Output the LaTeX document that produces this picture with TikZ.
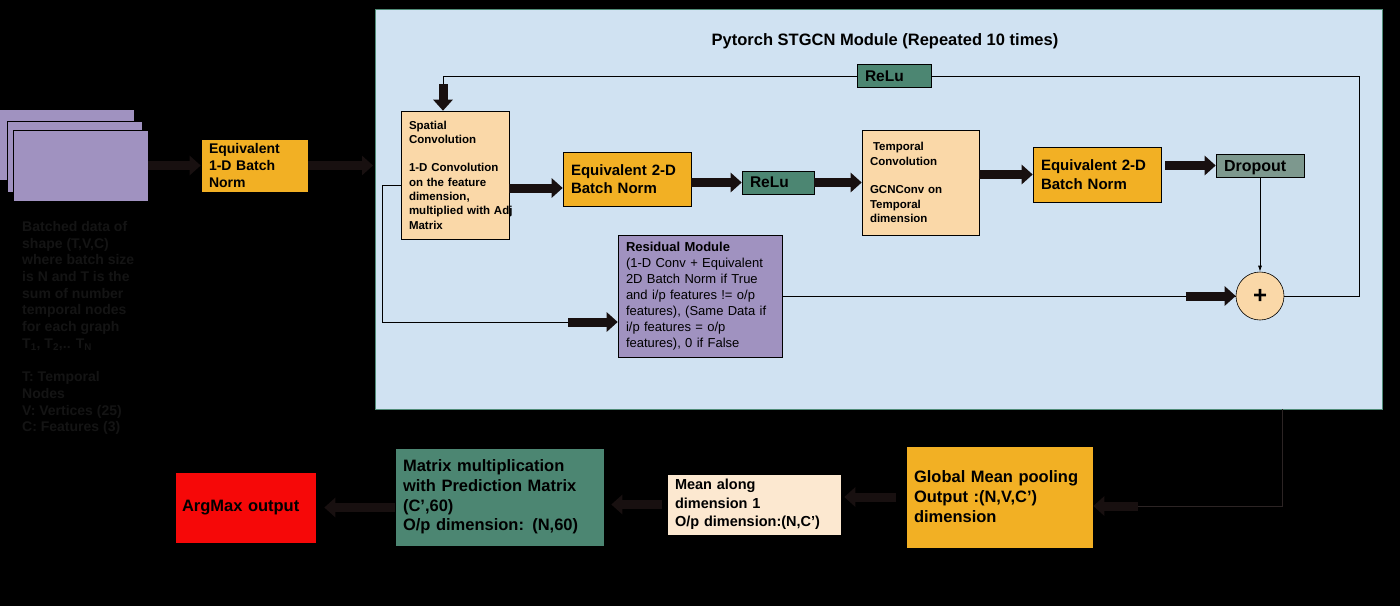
\documentclass[tikz,border=0pt]{standalone}
\usepackage{fontspec}
\setmainfont{Liberation Sans}
\usetikzlibrary{arrows.meta,positioning}

\definecolor{modblue}{RGB}{208,226,242}
\definecolor{bnorange}{RGB}{242,176,36}
\definecolor{convpeach}{RGB}{250,216,168}
\definecolor{meanpeach}{RGB}{252,232,208}
\definecolor{reluteal}{RGB}{76,134,114}
\definecolor{respurple}{RGB}{160,146,192}
\definecolor{dropgray}{RGB}{125,152,142}
\definecolor{argred}{RGB}{246,8,8}
\definecolor{arrowdark}{RGB}{24,16,16}
\definecolor{exitdark}{RGB}{44,36,36}
\definecolor{notegray}{RGB}{20,20,20}
\definecolor{modedge}{RGB}{80,140,120}

\begin{document}
\begin{tikzpicture}[
		x=1pt, y=-1pt,
		box/.style={
			draw=black, line width=0.6pt, rectangle,
			align=left, inner xsep=8pt, inner ysep=0pt
		},
		orangebox/.style={box, fill=bnorange},
		peachbox/.style={box, fill=convpeach},
		tealbox/.style={box, fill=reluteal},
		purplebox/.style={box, fill=respurple},
		stackbox/.style={draw=black, line width=0.6pt, fill=respurple, minimum width=135pt, minimum height=71pt},
		thickarrow/.style={draw=arrowdark, line width=9pt, -{Triangle[length=11pt,width=19pt]}},
		thinline/.style={draw=black, line width=0.8pt},
		thinarrow/.style={thinline, -{Latex[length=6pt,width=4pt]}}
		]
		
		% canvas
		\useasboundingbox (0,0) rectangle (1400,606);
		\fill[black] (0,0) rectangle (1400,606);
		\draw[modedge, line width=0.8pt, fill=modblue] (375,9) rectangle (1382,409);
		\node[font=\fontsize{16.5}{20}\selectfont\bfseries] (title) at (885,41) {Pytorch STGCN Module (Repeated 10 times)};
		
		% input data
		\node[stackbox] (stackA) at (67,144.5) {};
		\node[stackbox] (stackB) at (75,156.5) {};
		\node[stackbox] (stackC) at (80.5,165.5) {};
		\node[font=\fontsize{14}{16.7}\selectfont\bfseries, text=notegray, align=left, anchor=north west, inner sep=0pt] (note) at (22,221) {Batched data of\\shape (T,V,C)\\where batch size\\is N and T is the\\sum of number\\temporal nodes\\for each graph\\T\textsubscript{1}, T\textsubscript{2},.. T\textsubscript{N}\\[16.7pt]T: Temporal\\Nodes\\V: Vertices (25)\\C: Features (3)};
		
		\node[orangebox, minimum width=107pt, minimum height=53pt, text width=91pt, font=\fontsize{14}{16.7}\selectfont\bfseries] (bnone) at (254.5,165.5) {Equivalent\\1-D Batch\\Norm};
		
		% STGCN module
		\node[peachbox, minimum width=108pt, minimum height=128pt, text width=92pt, font=\fontsize{11.5}{14.3}\selectfont\bfseries] (spatial) at (455,175) {Spatial\\Convolution\\[14.3pt]1-D Convolution\\on the feature\\dimension,\\\mbox{multiplied with Adj}\\Matrix};
		\node[orangebox, minimum width=128pt, minimum height=54pt, text width=112pt, font=\fontsize{15}{18.3}\selectfont\bfseries] (bntwo) at (627,179) {Equivalent 2-D\\Batch Norm};
		\node[tealbox, minimum width=72pt, minimum height=23pt, text width=56pt, font=\fontsize{15.5}{18}\selectfont\bfseries] (reluone) at (778,182.5) {ReLu};
		\node[peachbox, minimum width=117pt, minimum height=105pt, text width=101pt, font=\fontsize{11.5}{14.3}\selectfont\bfseries] (temporal) at (920.5,182.5) {\hspace{3pt}Temporal\\Convolution\\[14.3pt]GCNConv on\\Temporal\\dimension};
		\node[orangebox, minimum width=128pt, minimum height=55pt, text width=112pt, font=\fontsize{15}{18.3}\selectfont\bfseries] (bnthree) at (1097,174.5) {Equivalent 2-D\\Batch Norm};
		\node[box, fill=dropgray, minimum width=88pt, minimum height=23pt, text width=72pt, text depth=0pt, font=\fontsize{16}{18}\selectfont\bfseries] (dropout) at (1260,165.5) {Dropout};
		\node[draw=black, line width=0.6pt, circle, fill=convpeach, minimum size=48pt, inner sep=0pt, font=\fontsize{24}{24}\selectfont\bfseries] (plus) at (1260,296) {+};
		\node[purplebox, minimum width=164pt, minimum height=122pt, text width=148pt, font=\fontsize{13}{16}\selectfont] (residual) at (700,296) {{\bfseries Residual Module}\\(1-D Conv + Equivalent\\2D Batch Norm if True\\and i/p features != o/p\\features), (Same Data if\\i/p features = o/p\\features), 0 if False};
		\node[tealbox, minimum width=74pt, minimum height=23pt, text width=58pt, font=\fontsize{15.5}{18}\selectfont\bfseries] (relutwo) at (894,76) {ReLu};
		
		% output head
		\node[orangebox, minimum width=187pt, minimum height=102pt, text width=171pt, font=\fontsize{16.5}{20}\selectfont\bfseries] (pooling) at (999.5,497) {Global Mean pooling\\Output :(N,V,C’)\\dimension};
		\node[box, fill=meanpeach, minimum width=174pt, minimum height=61pt, text width=158pt, font=\fontsize{14.5}{18.3}\selectfont\bfseries] (mean) at (754,504.5) {Mean along\\dimension 1\\O/p dimension:(N,C’)};
		\node[tealbox, minimum width=209pt, minimum height=98pt, text width=193pt, font=\fontsize{16.5}{19.7}\selectfont\bfseries] (predict) at (499.5,497) {Matrix multiplication\\with Prediction Matrix\\(C’,60)\\O/p dimension: (N,60)};
		\node[box, fill=argred, inner xsep=7pt, minimum width=141pt, minimum height=71pt, text width=127pt, font=\fontsize{16.5}{20}\selectfont\bfseries] (argmax) at (245.5,507.5) {ArgMax output};
		
		% connectors
		\coordinate (entry) at (373,165.5);
		\coordinate (split) at (382,185);
		\coordinate (resin) at (568,322);
		\coordinate (looptop) at (443,76);
		\coordinate (loopright) at (1359,76);
		\coordinate (exit) at (1282,409);
		\coordinate (poolin) at (1138,506);
		
		\draw[thickarrow] (stackC.east) -- (bnone.west);
		\draw[thickarrow] (bnone.east) -- (entry);
		\draw[thinline] (spatial.west |- split) -- (split) |- (resin);
		\draw[thickarrow] (resin) -- (residual.west |- resin);
		\draw[thickarrow] (spatial.east |- 0,188) -- (bntwo.west |- 0,188);
		\draw[thickarrow] (bntwo.east |- reluone.west) -- (reluone.west);
		\draw[thickarrow] (reluone.east) -- (temporal.west |- reluone.east);
		\draw[thickarrow] (temporal.east |- bnthree.west) -- (bnthree.west);
		\draw[thickarrow] ([xshift=4pt]bnthree.east |- dropout.west) -- (dropout.west);
		\draw[thinarrow] (dropout.south) -- (plus.north);
		\draw[thinline] (residual.east) -- (plus.west);
		\draw[thickarrow] ([xshift=-50pt]plus.west) -- (plus.west);
		\draw[thinline] (plus.east) -| (loopright) -- (relutwo.east);
		\draw[thinline] (relutwo.west) -- (looptop) -- ++(0,8);
		\draw[thickarrow] ([yshift=-8pt]looptop) -- (looptop |- spatial.north);
		
		\draw[thinline, draw=exitdark] (exit) |- (poolin);
		\draw[thickarrow] (poolin) -- (pooling.east |- poolin);
		\draw[thickarrow] ([xshift=-10pt]pooling.west) -- ([xshift=3pt]mean.east |- pooling.west);
		\draw[thickarrow] ([xshift=-5pt]mean.west) -- ([xshift=7pt]predict.east |- mean.west);
		\draw[thickarrow] (predict.west |- argmax.east) -- ([xshift=8pt]argmax.east);
	\end{tikzpicture}
\end{document}
